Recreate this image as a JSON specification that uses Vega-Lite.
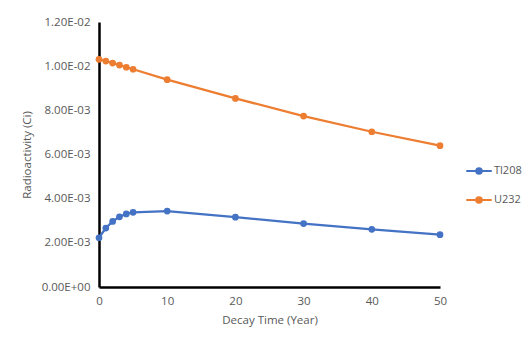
{
  "$schema": "https://vega.github.io/schema/vega-lite/v6.json",
  "width": 341,
  "height": 265,
  "autosize": {"type": "none"},
  "padding": {"left": 99, "top": 22, "right": 89, "bottom": 57},
  "background": "white",
  "config": {
    "view": {"stroke": null},
    "font": "Open Sans",
    "axis": {"labelColor": "#595959", "titleColor": "#595959", "labelFont": "Open Sans", "titleFont": "Open Sans", "labelFontSize": 11.5, "titleFontSize": 11.5, "titleFontWeight": "normal", "grid": false, "ticks": false, "domainColor": "#000000", "domainWidth": 2.5, "labelFlush": false}
  },
  "data": {"values": [
    {"t": 0, "s": "Tl208", "v": 0.00223},
    {"t": 1, "s": "Tl208", "v": 0.00267},
    {"t": 2, "s": "Tl208", "v": 0.00297},
    {"t": 3, "s": "Tl208", "v": 0.00318},
    {"t": 4, "s": "Tl208", "v": 0.00331},
    {"t": 5, "s": "Tl208", "v": 0.00338},
    {"t": 10, "s": "Tl208", "v": 0.00344},
    {"t": 20, "s": "Tl208", "v": 0.00316},
    {"t": 30, "s": "Tl208", "v": 0.00287},
    {"t": 40, "s": "Tl208", "v": 0.00261},
    {"t": 50, "s": "Tl208", "v": 0.00237},
    {"t": 0, "s": "U232", "v": 0.01031},
    {"t": 1, "s": "U232", "v": 0.01023},
    {"t": 2, "s": "U232", "v": 0.01014},
    {"t": 3, "s": "U232", "v": 0.01005},
    {"t": 4, "s": "U232", "v": 0.00995},
    {"t": 5, "s": "U232", "v": 0.00986},
    {"t": 10, "s": "U232", "v": 0.00939},
    {"t": 20, "s": "U232", "v": 0.00854},
    {"t": 30, "s": "U232", "v": 0.00774},
    {"t": 40, "s": "U232", "v": 0.00703},
    {"t": 50, "s": "U232", "v": 0.0064}
  ]},
  "encoding": {
    "x": {"field": "t", "type": "quantitative", "scale": {"domain": [0, 50], "nice": false},
      "axis": {"title": "Decay Time (Year)", "values": [0, 10, 20, 30, 40, 50], "labelPadding": 8, "titlePadding": 8}},
    "y": {"field": "v", "type": "quantitative", "scale": {"domain": [0, 0.012], "nice": false},
      "axis": {"title": "Radioactivity (Ci)", "values": [0, 0.002, 0.004, 0.006, 0.008, 0.01, 0.012], "labelPadding": 9, "titlePadding": 9,
        "labelExpr": "datum.value == 0 ? '0.00E+00' : (datum.value < 0.0099 ? format(datum.value*1000, '.2f') + 'E-03' : format(datum.value*100, '.2f') + 'E-02')"}},
    "color": {"field": "s", "type": "nominal", "scale": {"domain": ["Tl208", "U232"], "range": ["#4472C4", "#ED7D31"]},
      "legend": {"title": null, "orient": "none", "legendX": 366, "legendY": 135, "labelColor": "#595959", "labelFontSize": 11, "labelFont": "Open Sans", "rowPadding": 8, "labelOffset": 1,
        "symbolType": "M-1,0H1M-0.22,0A0.22,0.22 0 1,1 0.22,0A0.22,0.22 0 1,1 -0.22,0", "symbolSize": 650, "symbolStrokeWidth": 2, "symbolFillColor": null}}
  },
  "layer": [
    {"mark": {"type": "line", "strokeWidth": 2.2}},
    {"mark": {"type": "point", "filled": true, "size": 45, "opacity": 1}}
  ]
}
